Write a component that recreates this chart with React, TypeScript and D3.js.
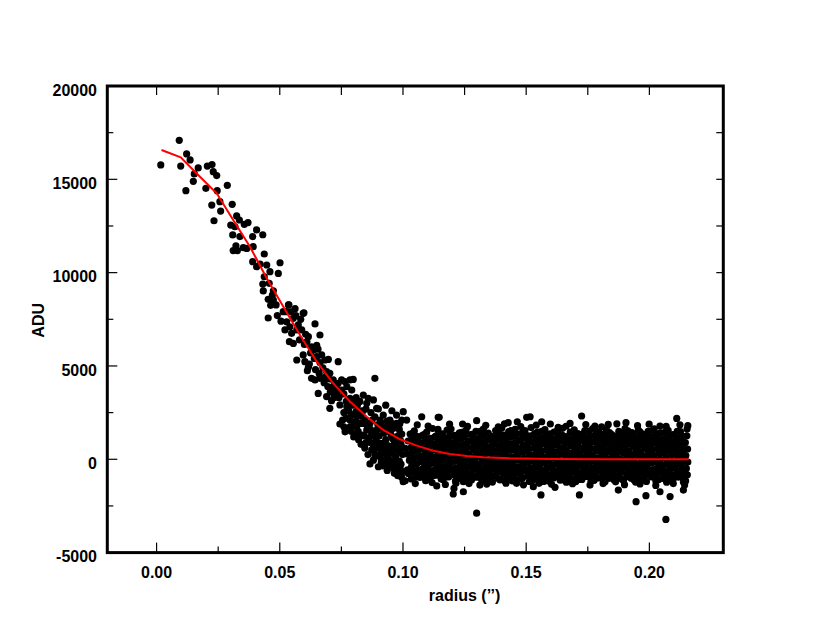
import React from "react";
import * as d3 from "d3";

// ---- data ----
const xMajorTicks = [0, 0.05, 0.1, 0.15, 0.2];
const xMinorTicks = [0.025, 0.075, 0.125, 0.175];
const yMajorTicks = [-5000, 0, 5000, 10000, 15000, 20000];
const yMinorTicks = [-2500, 2500, 7500, 12500, 17500];
const xTitle = "radius (\u2019\u2019)";
const yTitle = "ADU";

// central peak points (r in arcsec, ADU)
const peakPoints: [number, number][] = [
  [0.0017,15770],[0.0092,17090],[0.0098,15710],[0.0122,16360],[0.0136,16040],[0.0119,14390],[0.0153,15290],[0.0169,15610],
  [0.0149,14890],[0.0206,15710],[0.0225,15790],[0.0230,15410],[0.0244,15200],[0.0200,14520],[0.0246,14390],[0.0287,14680],
  [0.0224,13620],[0.0257,13800],[0.0260,13300],[0.0233,12780],[0.0307,13660],[0.0325,13040],[0.0336,12820],[0.0301,12550],
  [0.0318,12460],[0.0356,12590],[0.0371,12680],[0.0406,12290],[0.0431,12030],[0.0390,11930],[0.0309,12020],[0.0338,11930],
  [0.0322,11440],[0.0311,11180],[0.0328,11180],[0.0352,11340],[0.0366,11300],[0.0392,11390],[0.0437,11000],[0.0390,10590],
  [0.0406,10320],[0.0420,10460],[0.0447,10410],[0.0501,10530],[0.0460,10050],[0.0494,9960],[0.0437,9780],[0.0431,9390],
  [0.0457,9430],[0.0433,9020],[0.0474,9030],[0.0453,8570],[0.0474,8530],[0.0463,8250],[0.0485,8270],[0.0537,8280],
  [0.0562,8070],[0.0598,7850],[0.0528,7910],[0.0453,7570],[0.0555,7550],[0.0470,8800],[0.0490,7700],[0.0505,7400],
];

// wing points
const wingPoints: [number, number][] = [
  [0.0514,7910],[0.0535,8270],[0.0595,7820],[0.0528,7370],[0.0541,7100],[0.0521,6930],[0.0548,6750],[0.0569,6930],
  [0.0589,6930],[0.0616,6570],[0.0539,6300],[0.0555,6210],[0.0643,7250],[0.0663,6660],[0.0629,6030],[0.0636,5860],
  [0.0569,5320],[0.0595,5590],[0.0602,5230],[0.0616,4930],[0.0612,4750],[0.0650,5500],[0.0670,5590],[0.0683,5320],
  [0.0697,5350],[0.0663,5180],[0.0737,5230],[0.0629,4340],[0.0643,4250],[0.0663,4340],[0.0683,4390],[0.0703,4610],
  [0.0717,4250],[0.0737,4070],[0.0751,4250],[0.0765,4160],[0.0785,4250],[0.0798,4280],[0.0772,3890],[0.0792,3710],
  [0.0751,3710],[0.0886,4340],[0.0656,3530],[0.0690,3360],[0.0731,3440],[0.0710,3140],[0.0703,2730],[0.0744,2910],
  [0.0772,2820],[0.0785,3270],[0.0839,3440],[0.0859,3270],[0.0880,3180],[0.0853,3000],[0.0893,2730],[0.0575,7200],
  [0.0580,6400],[0.0600,6150],[0.0610,6300],[0.0625,5700],[0.0640,5400],[0.0655,5900],[0.0675,4900],[0.0690,4700],
  [0.0700,4300],[0.0715,3900],[0.0725,3600],[0.0740,3300],[0.0760,3500],[0.0770,3100],[0.0800,3000],[0.0815,2900],
  [0.0825,2600],[0.0810,3300],[0.0760,2500],[0.0790,2400],[0.0838,2600],[0.0810,2550],[0.0900,2700],[0.0870,2500],
  [0.0620,5100],[0.0645,4800],[0.0660,4600],[0.0680,4100],[0.0695,3900],[0.0705,3600],[0.0720,3300],[0.0735,3750],
  [0.0650,6100],[0.0605,6700],[0.0585,7500],[0.0565,7700],[0.0545,7900],
];

// transition region points
const transitionPoints: [number, number][] = [
  [0.0744,1890],[0.0760,1740],[0.0785,2100],[0.0812,2280],[0.0825,1920],[0.0846,2100],[0.0866,1920],[0.0886,2280],
  [0.0907,2100],[0.0920,2370],[0.0947,2100],[0.0974,2370],[0.1015,2100],[0.0765,1470],[0.0785,1740],[0.0812,1740],
  [0.0839,1920],[0.0853,1560],[0.0873,1350],[0.0893,1560],[0.0914,1650],[0.0934,1740],[0.0954,1920],[0.0974,1920],
  [0.0995,2100],[0.0873,500],[0.0886,230],[0.0907,140],[0.0927,500],[0.0947,320],[0.0968,590],[0.0988,410],
  [0.1009,590],[0.0866,-250],[0.0900,-400],[0.0927,-220],[0.0961,-480],[0.0981,-720],[0.0995,-970],[0.1009,-1150],
  [0.1018,-570],[0.0800,1200],[0.0820,1050],[0.0835,1300],[0.0850,900],[0.0862,1150],[0.0878,800],[0.0890,1000],
  [0.0903,1250],[0.0915,850],[0.0930,1050],[0.0942,700],[0.0958,1100],[0.0965,850],[0.0980,1250],[0.0992,800],
  [0.0845,600],[0.0858,250],[0.0880,-50],[0.0895,600],[0.0912,350],[0.0925,-50],[0.0940,100],[0.0952,-250],
  [0.0970,150],[0.0985,-100],[0.0998,250],[0.0955,2600],[0.0930,2900],
  [0.0790,1500],[0.0805,2000],[0.0818,1500],[0.0830,2300],[0.0842,1250],[0.0855,1800],[0.0868,1600],[0.0875,2100],
  [0.0885,1250],[0.0898,1850],[0.0910,1950],[0.0922,1400],[0.0935,2050],[0.0948,1450],[0.0960,1650],[0.0972,1150],
  [0.0985,1600],[0.0995,1350],[0.0868,900],[0.0885,550],[0.0898,900],[0.0918,600],[0.0935,750],[0.0950,450],
  [0.0962,400],[0.0978,750],[0.0990,1000],[0.0930,300],[0.0945,-450],[0.0975,-300],[0.0990,-550],[0.0912,-150],
  [0.0895,200],[0.0830,800],[0.0815,1400],[0.0800,1800],[0.0780,2600],[0.0770,2200],[0.0755,2100],[0.0795,2900],
  [0.0825,3100],[0.0850,2700],
  [0.0965,-750],[0.0958,-80],[0.0978,-420],[0.0992,-260],[0.0970,1000],[0.0983,550],[0.0996,-700],[0.0952,1300],
  [0.0940,1550],[0.0963,1800],[0.0987,1900],[0.0945,-120],[0.0918,-350],[0.0936,-600],[0.0979,-880],
];

// background band points (first set)
const bandPoints: [number, number][] = [
  [0.1029,1350],[0.1021,980],[0.1033,620],[0.1018,280],[0.1026,-60],[0.1035,-410],[0.1022,-760],
  [0.1046,1520],[0.1054,1120],[0.1049,760],[0.1057,420],[0.1043,90],[0.1052,-260],[0.1047,-620],[0.1055,-930],
  [0.1079,1280],[0.1071,900],[0.1083,540],[0.1068,190],[0.1077,-150],[0.1081,-500],[0.1073,-820],
  [0.1096,1450],[0.1104,1060],[0.1099,700],[0.1107,360],[0.1093,20],[0.1102,-330],[0.1108,-680],[0.1095,-1000],
  [0.1129,1200],[0.1121,840],[0.1133,480],[0.1118,130],[0.1127,-200],[0.1131,-540],[0.1123,-870],[0.1120,1650],
  [0.1146,1380],[0.1154,1010],[0.1149,660],[0.1157,300],[0.1143,-40],[0.1152,-390],[0.1147,-720],[0.1155,-1060],
  [0.1179,1560],[0.1171,1150],[0.1183,780],[0.1168,430],[0.1177,70],[0.1181,-270],[0.1173,-610],[0.1176,-940],
  [0.1196,1240],[0.1204,880],[0.1199,520],[0.1207,170],[0.1193,-170],[0.1202,-510],[0.1208,-830],[0.1195,1620],
  [0.1229,1420],[0.1221,1040],[0.1233,680],[0.1218,330],[0.1227,-20],[0.1231,-360],[0.1223,-700],[0.1226,-1030],
  [0.1246,1180],[0.1254,820],[0.1249,470],[0.1257,120],[0.1243,-220],[0.1252,-560],[0.1247,-900],[0.1255,1550],
  [0.1279,1330],[0.1271,960],[0.1283,600],[0.1268,250],[0.1277,-100],[0.1281,-440],[0.1273,-780],[0.1278,-1110],
  [0.1296,1490],[0.1304,1100],[0.1299,740],[0.1307,390],[0.1293,40],[0.1302,-300],[0.1308,-640],[0.1295,-960],
  [0.1329,1250],[0.1321,890],[0.1333,530],[0.1318,180],[0.1327,-160],[0.1331,-500],[0.1323,-840],[0.1326,1620],[0.1320,-1150],
  [0.1346,1400],[0.1354,1030],[0.1349,670],[0.1357,320],[0.1343,-30],[0.1352,-370],[0.1347,-710],[0.1355,-1040],
  [0.1379,1180],[0.1371,830],[0.1383,480],[0.1368,130],[0.1377,-210],[0.1381,-550],[0.1373,-880],[0.1376,1540],
  [0.1396,1320],[0.1404,960],[0.1399,610],[0.1407,260],[0.1393,-90],[0.1402,-430],[0.1408,-770],[0.1395,-1080],[0.1401,1680],
  [0.1429,1480],[0.1421,1100],[0.1433,740],[0.1418,390],[0.1427,40],[0.1431,-300],[0.1423,-640],[0.1426,-970],
  [0.1446,1230],[0.1454,870],[0.1449,510],[0.1457,160],[0.1443,-180],[0.1452,-520],[0.1447,-860],[0.1455,1600],[0.1444,-1160],
  [0.1479,1380],[0.1471,1010],[0.1483,650],[0.1468,300],[0.1477,-50],[0.1481,-390],[0.1473,-730],[0.1478,-1060],
  [0.1496,1170],[0.1504,810],[0.1499,460],[0.1507,110],[0.1493,-230],[0.1502,-570],[0.1508,-900],[0.1495,1530],
  [0.1529,1310],[0.1521,950],[0.1533,600],[0.1518,250],[0.1527,-100],[0.1531,-440],[0.1523,-780],[0.1526,-1100],[0.1520,1700],
  [0.1546,1460],[0.1554,1090],[0.1549,730],[0.1557,380],[0.1543,30],[0.1552,-310],[0.1547,-650],[0.1555,-980],
  [0.1579,1210],[0.1571,860],[0.1583,500],[0.1568,150],[0.1577,-190],[0.1581,-530],[0.1573,-870],[0.1576,1590],[0.1570,-1190],
  [0.1596,1360],[0.1604,990],[0.1599,640],[0.1607,290],[0.1593,-60],[0.1602,-400],[0.1608,-740],[0.1595,-1070],
  [0.1629,1160],[0.1621,800],[0.1633,450],[0.1618,100],[0.1627,-240],[0.1631,-580],[0.1623,-910],[0.1626,1520],
  [0.1646,1300],[0.1654,940],[0.1649,590],[0.1657,240],[0.1643,-110],[0.1652,-450],[0.1647,-790],[0.1655,-1120],[0.1648,1660],
  [0.1679,1450],[0.1671,1080],[0.1683,720],[0.1668,370],[0.1677,20],[0.1681,-320],[0.1673,-660],[0.1676,-990],
  [0.1696,1200],[0.1704,850],[0.1699,490],[0.1707,140],[0.1693,-200],[0.1702,-540],[0.1708,-880],[0.1695,1580],[0.1701,-1200],
  [0.1729,1350],[0.1721,980],[0.1733,630],[0.1718,280],[0.1727,-70],[0.1731,-410],[0.1723,-750],[0.1726,-1080],
  [0.1746,1150],[0.1754,790],[0.1749,440],[0.1757,90],[0.1743,-250],[0.1752,-590],[0.1747,-920],[0.1755,1510],
  [0.1779,1290],[0.1771,930],[0.1783,580],[0.1768,230],[0.1777,-120],[0.1781,-460],[0.1773,-800],[0.1776,-1130],[0.1770,1650],
  [0.1796,1440],[0.1804,1070],[0.1799,710],[0.1807,360],[0.1793,10],[0.1802,-330],[0.1808,-670],[0.1795,-1000],
  [0.1829,1190],[0.1821,840],[0.1833,480],[0.1818,130],[0.1827,-210],[0.1831,-550],[0.1823,-890],[0.1826,1570],[0.1820,-1210],
  [0.1846,1340],[0.1854,970],[0.1849,620],[0.1857,270],[0.1843,-80],[0.1852,-420],[0.1847,-760],[0.1855,-1090],
  [0.1879,1140],[0.1871,780],[0.1883,430],[0.1868,80],[0.1877,-260],[0.1881,-600],[0.1873,-930],[0.1876,1500],
  [0.1896,1280],[0.1904,920],[0.1899,570],[0.1907,220],[0.1893,-130],[0.1902,-470],[0.1908,-810],[0.1895,-1140],[0.1901,1640],
  [0.1929,1430],[0.1921,1060],[0.1933,700],[0.1918,350],[0.1927,0],[0.1931,-340],[0.1923,-680],[0.1926,-1010],
  [0.1946,1180],[0.1954,830],[0.1949,470],[0.1957,120],[0.1943,-220],[0.1952,-560],[0.1947,-900],[0.1955,1560],[0.1944,-1220],
  [0.1979,1330],[0.1971,960],[0.1983,610],[0.1968,260],[0.1977,-90],[0.1981,-430],[0.1973,-770],[0.1978,-1100],
  [0.1996,1130],[0.2004,770],[0.1999,420],[0.2007,70],[0.1993,-270],[0.2002,-610],[0.2008,-940],[0.1995,1490],
  [0.2029,1270],[0.2021,910],[0.2033,560],[0.2018,210],[0.2027,-140],[0.2031,-480],[0.2023,-820],[0.2026,-1150],[0.2020,1630],
  [0.2046,1420],[0.2054,1050],[0.2049,690],[0.2057,340],[0.2043,-10],[0.2052,-350],[0.2047,-690],[0.2055,-1020],
  [0.2079,1170],[0.2071,820],[0.2083,460],[0.2068,110],[0.2077,-230],[0.2081,-570],[0.2073,-910],[0.2076,1550],[0.2070,-1230],
  [0.2096,1320],[0.2104,950],[0.2099,600],[0.2107,250],[0.2093,-100],[0.2102,-440],[0.2108,-780],[0.2095,-1110],
  [0.2129,1120],[0.2121,760],[0.2133,410],[0.2118,60],[0.2127,-280],[0.2131,-620],[0.2123,-950],[0.2126,1480],
  [0.2152,1260],[0.2146,900],[0.2155,550],[0.2148,200],[0.2156,-150],[0.2150,-490],[0.2154,-830],[0.2147,-1160],[0.2153,1620],
];

// background band points (second, interleaved set)
const bandPoints2: [number, number][] = [
  [0.1040,1400],[0.1035,1060],[0.1039,690],[0.1033,350],[0.1041,10],[0.1036,-350],[0.1038,-700],[0.1034,-1050],
  [0.1060,1210],[0.1065,850],[0.1062,490],[0.1066,150],[0.1059,-190],[0.1064,-560],[0.1061,-900],
  [0.1085,1320],[0.1090,950],[0.1087,620],[0.1091,260],[0.1084,-80],[0.1089,-440],[0.1086,-790],[0.1092,-1150],
  [0.1110,1120],[0.1115,770],[0.1112,420],[0.1116,60],[0.1109,-270],[0.1114,-630],[0.1111,-980],
  [0.1135,1250],[0.1140,900],[0.1137,550],[0.1141,200],[0.1134,-150],[0.1139,-500],[0.1136,-850],[0.1142,1600],
  [0.1160,1360],[0.1165,1010],[0.1162,660],[0.1166,310],[0.1159,-40],[0.1164,-390],[0.1161,-740],[0.1163,-1090],
  [0.1185,1160],[0.1190,810],[0.1187,460],[0.1191,110],[0.1184,-240],[0.1189,-590],[0.1186,-940],
  [0.1210,1280],[0.1215,930],[0.1212,580],[0.1216,230],[0.1209,-120],[0.1214,-470],[0.1211,-820],[0.1213,-1170],
  [0.1235,1090],[0.1240,740],[0.1237,390],[0.1241,40],[0.1234,-310],[0.1239,-660],[0.1236,-1010],[0.1238,1440],
  [0.1260,1340],[0.1265,990],[0.1262,640],[0.1266,290],[0.1259,-60],[0.1264,-410],[0.1261,-760],[0.1263,-1110],
  [0.1285,1210],[0.1290,860],[0.1287,510],[0.1291,160],[0.1284,-190],[0.1289,-540],[0.1286,-890],
  [0.1310,1140],[0.1315,790],[0.1312,440],[0.1316,90],[0.1309,-260],[0.1314,-610],[0.1311,-960],[0.1313,1490],
  [0.1335,1390],[0.1340,1040],[0.1337,690],[0.1341,340],[0.1334,-10],[0.1339,-360],[0.1336,-710],[0.1338,-1060],
  [0.1360,1230],[0.1365,880],[0.1362,530],[0.1366,180],[0.1359,-170],[0.1364,-520],[0.1361,-870],[0.1363,-1220],
  [0.1385,1070],[0.1390,720],[0.1387,370],[0.1391,20],[0.1384,-330],[0.1389,-680],[0.1386,-1030],[0.1388,1420],
  [0.1410,1300],[0.1415,950],[0.1412,600],[0.1416,250],[0.1409,-100],[0.1414,-450],[0.1411,-800],[0.1413,-1150],
  [0.1435,1180],[0.1440,830],[0.1437,480],[0.1441,130],[0.1434,-220],[0.1439,-570],[0.1436,-920],[0.1438,1530],
  [0.1460,1350],[0.1465,1000],[0.1462,650],[0.1466,300],[0.1459,-50],[0.1464,-400],[0.1461,-750],[0.1463,-1100],
  [0.1485,1110],[0.1490,760],[0.1487,410],[0.1491,60],[0.1484,-290],[0.1489,-640],[0.1486,-990],[0.1488,1460],
  [0.1510,1260],[0.1515,910],[0.1512,560],[0.1516,210],[0.1509,-140],[0.1514,-490],[0.1511,-840],[0.1513,-1190],
  [0.1535,1380],[0.1540,1030],[0.1537,680],[0.1541,330],[0.1534,-20],[0.1539,-370],[0.1536,-720],[0.1538,-1070],
  [0.1560,1150],[0.1565,800],[0.1562,450],[0.1566,100],[0.1559,-250],[0.1564,-600],[0.1561,-950],[0.1563,1500],
  [0.1585,1290],[0.1590,940],[0.1587,590],[0.1591,240],[0.1584,-110],[0.1589,-460],[0.1586,-810],[0.1588,-1160],
  [0.1610,1100],[0.1615,750],[0.1612,400],[0.1616,50],[0.1609,-300],[0.1614,-650],[0.1611,-1000],[0.1613,1450],
  [0.1635,1330],[0.1640,980],[0.1637,630],[0.1641,280],[0.1634,-70],[0.1639,-420],[0.1636,-770],[0.1638,-1120],
  [0.1660,1220],[0.1665,870],[0.1662,520],[0.1666,170],[0.1659,-180],[0.1664,-530],[0.1661,-880],[0.1663,-1230],
  [0.1685,1050],[0.1690,700],[0.1687,350],[0.1691,0],[0.1684,-350],[0.1689,-700],[0.1686,-1050],[0.1688,1400],
  [0.1710,1370],[0.1715,1020],[0.1712,670],[0.1716,320],[0.1709,-30],[0.1714,-380],[0.1711,-730],[0.1713,-1080],
  [0.1735,1190],[0.1740,840],[0.1737,490],[0.1741,140],[0.1734,-210],[0.1739,-560],[0.1736,-910],[0.1738,1540],
  [0.1760,1270],[0.1765,920],[0.1762,570],[0.1766,220],[0.1759,-130],[0.1764,-480],[0.1761,-830],[0.1763,-1180],
  [0.1785,1130],[0.1790,780],[0.1787,430],[0.1791,80],[0.1784,-270],[0.1789,-620],[0.1786,-970],[0.1788,1480],
  [0.1810,1320],[0.1815,970],[0.1812,620],[0.1816,270],[0.1809,-80],[0.1814,-430],[0.1811,-780],[0.1813,-1130],
  [0.1835,1080],[0.1840,730],[0.1837,380],[0.1841,30],[0.1834,-320],[0.1839,-670],[0.1836,-1020],[0.1838,1430],
  [0.1860,1240],[0.1865,890],[0.1862,540],[0.1866,190],[0.1859,-160],[0.1864,-510],[0.1861,-860],[0.1863,-1210],
  [0.1885,1400],[0.1890,1050],[0.1887,700],[0.1891,350],[0.1884,0],[0.1889,-350],[0.1886,-700],[0.1888,-1050],
  [0.1910,1170],[0.1915,820],[0.1912,470],[0.1916,120],[0.1909,-230],[0.1914,-580],[0.1911,-930],[0.1913,1520],
  [0.1935,1340],[0.1940,990],[0.1937,640],[0.1941,290],[0.1934,-60],[0.1939,-410],[0.1936,-760],[0.1938,-1110],
  [0.1960,1110],[0.1965,760],[0.1962,410],[0.1966,60],[0.1959,-290],[0.1964,-640],[0.1961,-990],[0.1963,1460],
  [0.1985,1260],[0.1990,910],[0.1987,560],[0.1991,210],[0.1984,-140],[0.1989,-490],[0.1986,-840],[0.1988,-1190],
  [0.2010,1200],[0.2015,850],[0.2012,500],[0.2016,150],[0.2009,-200],[0.2014,-550],[0.2011,-900],[0.2013,1550],
  [0.2035,1360],[0.2040,1010],[0.2037,660],[0.2041,310],[0.2034,-40],[0.2039,-390],[0.2036,-740],[0.2038,-1090],
  [0.2060,1090],[0.2065,740],[0.2062,390],[0.2066,40],[0.2059,-310],[0.2064,-660],[0.2061,-1010],[0.2063,1440],
  [0.2085,1300],[0.2090,950],[0.2087,600],[0.2091,250],[0.2084,-100],[0.2089,-450],[0.2086,-800],[0.2088,-1150],
  [0.2110,1150],[0.2115,800],[0.2112,450],[0.2116,100],[0.2109,-250],[0.2114,-600],[0.2111,-950],[0.2113,1500],
  [0.2135,1230],[0.2140,880],[0.2137,530],[0.2141,180],[0.2134,-170],[0.2139,-520],[0.2136,-870],[0.2138,-1220],
];

// ragged points along the top and bottom edges of the band
const edgePoints: [number, number][] = [
  [0.1058,1850],[0.1102,1780],[0.1189,1880],[0.1262,1760],[0.1336,1820],[0.1412,1900],[0.1478,1750],[0.1541,1830],
  [0.1598,1890],[0.1662,1770],[0.1742,1860],[0.1806,1740],[0.1868,1900],[0.1952,1800],[0.1999,1880],[0.2068,1760],
  [0.2124,1850],[0.2156,1800],
  [0.1050,-1300],[0.1118,-1250],[0.1172,-1350],[0.1268,-1300],[0.1340,-1330],[0.1418,-1280],[0.1489,-1370],[0.1552,-1290],
  [0.1603,-1340],[0.1688,-1310],[0.1759,-1380],[0.1812,-1300],[0.1899,-1360],[0.1962,-1320],[0.2026,-1400],[0.2097,-1300],
  [0.2143,-1380],
];

// scattered outliers above and below the band
const outlierPoints: [number, number][] = [
  [0.1001,2550],[0.1076,2280],[0.1147,2250],[0.1242,1890],[0.1299,2070],[0.1427,1960],[0.1502,2250],[0.1563,2010],
  [0.1143,2250],[0.1191,1300],[0.1387,1740],[0.1464,2010],[0.1516,2280],[0.1725,2320],[0.2111,2190],[0.1833,1870],
  [0.1905,1960],[0.1678,1920],[0.2043,1780],[0.1779,1780],[0.1630,1710],
  [0.1299,-2890],[0.1137,-1430],[0.1204,-1860],[0.1215,-1290],[0.1245,-1200],[0.1245,-1740],[0.1560,-1910],[0.1716,-1910],
  [0.1946,-2270],[0.1986,-1950],[0.2084,-2000],[0.2067,-3220],[0.1637,-1020],[0.1529,-1470],[0.1617,-1500],[0.1874,-1650],
  [0.2043,-1740],[0.2138,-1650],[0.1207,-1560],[0.1461,-1290],[0.1001,-1200],[0.1069,-970],[0.1312,-1380],[0.1394,-1110],
];

// fitted profile (red line)
const fitR = [0.002, 0.0098, 0.0176, 0.0244, 0.0311, 0.0379, 0.0447, 0.0514, 0.0582, 0.065, 0.0717, 0.0785, 0.0853, 0.092, 0.0988, 0.1056, 0.1123, 0.1191, 0.1259, 0.1326, 0.1434, 0.16, 0.18, 0.2, 0.216];
const fitADU = [16570, 16180, 15140, 14250, 12820, 11390, 9700, 8180, 6660, 5230, 4070, 3090, 2280, 1570, 1070, 730, 460, 280, 180, 110, 50, 15, 5, 0, 0];

const W = 830;
const H = 641;
const FONT = "'Liberation Sans', Arial, Helvetica, sans-serif";

export default function App() {
  const x = d3.scaleLinear().domain([-0.02, 0.23]).range([107.3, 723.3]);
  const y = d3.scaleLinear().domain([-5000, 20000]).range([552.6, 86]);
  const [x0, x1] = x.range();
  const [y0, y1] = y.range();

  const allPoints = [
    ...peakPoints, ...wingPoints, ...transitionPoints, ...bandPoints, ...bandPoints2, ...edgePoints, ...outlierPoints,
  ];
  const fit = fitR.map((r, i) => [r, fitADU[i]] as [number, number]);
  const line = d3.line<[number, number]>().x((d) => x(d[0])).y((d) => y(d[1]));

  const fmtX = d3.format(".2f");
  const fmtY = (v: number) => String(v);
  const tickStroke = 1.2;

  return (
    <svg width={W} height={H} style={{ position: "absolute", left: 0, top: 0, display: "block", background: "#fff" }}>
      <rect x={0} y={0} width={W} height={H} fill="#fff" />
      {/* points */}
      <g>
        {allPoints.map((d, i) => (
          <circle key={i} cx={x(d[0])} cy={y(d[1])} r={3.6} fill="#000" />
        ))}
      </g>
      {/* fit */}
      <path d={line(fit) || ""} fill="none" stroke="#ff0000" strokeWidth={2} />
      {/* ticks */}
      <g stroke="#000" strokeWidth={tickStroke}>
        {xMajorTicks.map((t) => (
          <line key={"xb" + t} x1={x(t)} x2={x(t)} y1={y0} y2={y0 - 10} />
        ))}
        {xMinorTicks.map((t) => (
          <line key={"xbm" + t} x1={x(t)} x2={x(t)} y1={y0} y2={y0 - 6} />
        ))}
        {[...xMajorTicks, ...xMinorTicks].map((t) => (
          <line key={"xt" + t} x1={x(t)} x2={x(t)} y1={y1} y2={y1 + 9} />
        ))}
        {yMajorTicks.map((t) => (
          <line key={"yl" + t} x1={x0} x2={x0 + 10} y1={y(t)} y2={y(t)} />
        ))}
        {yMinorTicks.map((t) => (
          <line key={"ylm" + t} x1={x0} x2={x0 + 6} y1={y(t)} y2={y(t)} />
        ))}
        {[...yMajorTicks, ...yMinorTicks].map((t) => (
          <line key={"yr" + t} x1={x1} x2={x1 - 7} y1={y(t)} y2={y(t)} />
        ))}
      </g>
      {/* frame */}
      <rect x={x0} y={y1} width={x1 - x0} height={y0 - y1} fill="none" stroke="#000" strokeWidth={3} />
      {/* tick labels */}
      <g fontFamily={FONT} fontWeight="bold" fontSize={16} fill="#000">
        {xMajorTicks.map((t) => (
          <text key={"xl" + t} x={x(t)} y={578} textAnchor="middle">
            {fmtX(t)}
          </text>
        ))}
        {yMajorTicks.map((t) => (
          <text key={"yl" + t} x={97} y={y(t) + 9.7} textAnchor="end">
            {fmtY(t)}
          </text>
        ))}
        <text x={x(0.125)} y={601} textAnchor="middle">
          {xTitle}
        </text>
        <text transform={`translate(44,${(y0 + y1) / 2 + 1}) rotate(-90)`} textAnchor="middle">
          {yTitle}
        </text>
      </g>
    </svg>
  );
}
